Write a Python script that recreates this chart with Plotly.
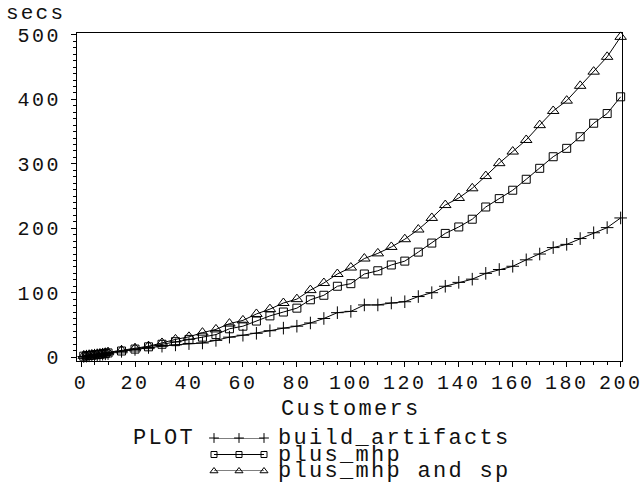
import plotly.graph_objects as go

# ---- data ----
customers = [1, 2, 3, 4, 5, 6, 7, 8, 9, 10,
             15, 20, 25, 30, 35, 40, 45, 50, 55, 60, 65, 70, 75, 80, 85, 90, 95, 100,
             105, 110, 115, 120, 125, 130, 135, 140, 145, 150, 155, 160, 165, 170, 175,
             180, 185, 190, 195, 200]

build_artifacts = [1.0, 1.5, 2.0, 2.5, 3.0, 3.5, 4.0, 4.5, 5.0, 5.5,
                   9, 12, 15, 17, 19, 21, 22, 26, 31, 34, 37, 41, 45, 48, 53, 60, 69, 71,
                   81, 81, 84, 86, 94, 100, 110, 116, 121, 130, 136, 141, 151, 160, 170,
                   175, 184, 193, 201, 216]

plus_mhp = [1.5, 2.0, 2.5, 3.0, 3.5, 4.0, 4.5, 5.0, 5.5, 6.5,
            9.5, 12.5, 16, 20, 24, 27.5, 31, 35, 44, 48, 56, 64, 70, 76, 89, 96, 110, 114,
            129, 134, 143, 149, 163, 177, 192, 202, 214, 233, 246, 259, 276, 293, 311,
            324, 342, 363, 378, 404]

plus_mhp_and_sp = [2.0, 2.5, 3.0, 3.5, 4.0, 4.5, 5.0, 6.0, 6.5, 7.5,
                   10.5, 13.5, 17, 22, 27.5, 31.5, 38, 43, 52, 57, 67, 74.5, 84, 90, 104, 115, 129, 139,
                   153, 161, 171, 183, 198, 216, 236, 247, 262, 281, 301, 319, 337, 360, 382,
                   398, 421, 443, 466, 497]

series_names = ["build_artifacts", "plus_mhp", "plus_mhp and sp"]
series_values = [build_artifacts, plus_mhp, plus_mhp_and_sp]
x_tick_values = list(range(0, 201, 20))
y_tick_values = list(range(0, 501, 100))
legend_key_x = [0, 1, 2]

# ---- styling ----
W, H = 641, 489
FONT = "Liberation Mono, Courier New, monospace"
INK = "#000000"
TXT = "#111111"
symbols = ["cross-thin", "square-open", "triangle-up-open"]
sizes = [9, 8, 10]
key_sizes = [7, 6, 7]


def spaced(s, px):
    return '<span style="letter-spacing:%spx">%s</span>' % (px, s)


def fx(px):  # page pixel -> paper fraction (x)
    return px / W


def fy(py):  # page pixel -> paper fraction (y)
    return 1 - py / H


# plot frame in page pixels
L, R, T, B = 77, 622, 33, 361
# legend geometry in page pixels
KEY_X0, KEY_X1 = 214, 264
ROW_Y = [438, 455, 471]
LABEL_X = 276

fig = go.Figure()

for name, vals, sym, sz in zip(series_names, series_values, symbols, sizes):
    fig.add_trace(go.Scatter(
        x=customers, y=vals, name=name, mode="lines+markers",
        line=dict(color=INK, width=1),
        marker=dict(symbol=sym, size=sz, color=INK, line=dict(color=INK, width=1)),
        cliponaxis=False, showlegend=False, xaxis="x", yaxis="y",
    ))

# custom SAS-style legend keys
for row, (name, sym, sz) in enumerate(zip(series_names, symbols, key_sizes)):
    fig.add_trace(go.Scatter(
        x=legend_key_x, y=[row] * len(legend_key_x), mode="lines+markers",
        line=dict(color=INK, width=1),
        marker=dict(symbol=sym, size=sz, color=INK, line=dict(color=INK, width=1)),
        cliponaxis=False, showlegend=False, hoverinfo="skip",
        xaxis="x2", yaxis="y2",
    ))

annotations = []
for row, name in enumerate(series_names):
    annotations.append(dict(
        text=spaced(name, 2.3), xref="paper", yref="paper", x=fx(LABEL_X), y=fy(ROW_Y[row]),
        xanchor="left", yanchor="middle", showarrow=False,
        font=dict(family=FONT, size=22, color=TXT),
    ))
annotations.append(dict(
    text=spaced("PLOT", 2.3), xref="paper", yref="paper", x=fx(164), y=fy(438),
    xanchor="center", yanchor="middle", showarrow=False,
    font=dict(family=FONT, size=22, color=TXT),
))
annotations.append(dict(
    text=spaced("Customers", 2.3), xref="paper", yref="paper", x=fx((L + R) / 2 + 1), y=fy(409),
    xanchor="center", yanchor="middle", showarrow=False,
    font=dict(family=FONT, size=22, color=TXT),
))
annotations.append(dict(
    text=spaced("secs", 2.2), xref="paper", yref="paper", x=fx(35), y=fy(14),
    xanchor="center", yanchor="middle", showarrow=False,
    font=dict(family=FONT, size=21, color=TXT),
))

axis_common = dict(
    showline=True, linecolor=INK, linewidth=1, mirror=True,
    ticks="outside", ticklen=5, tickwidth=1, tickcolor=INK,
    showgrid=False, zeroline=False, automargin=False, tickangle=0,
    ticklabeloverflow="allow",
    tickfont=dict(family=FONT, size=20, color=TXT),
)

fig.update_layout(
    width=W, height=H,
    margin=dict(l=0, r=0, t=0, b=0),
    paper_bgcolor="white", plot_bgcolor="white",
    template="none",
    showlegend=False,
    annotations=annotations,
    xaxis=dict(
        domain=[fx(L), fx(R)], range=[-1.5, 200.5],
        tickvals=x_tick_values, ticktext=[spaced(str(v), 2.5) for v in x_tick_values],
        minor=dict(ticks="outside", ticklen=3, tickwidth=1, tickcolor=INK, dtick=5, tick0=0),
        anchor="y", ticklabelstandoff=-2, **axis_common,
    ),
    yaxis=dict(
        domain=[fy(B), fy(T)], range=[-6, 503],
        tickvals=y_tick_values, ticktext=[spaced(str(v), 2.5) for v in y_tick_values],
        minor=dict(ticks="outside", ticklen=3, tickwidth=1, tickcolor=INK, dtick=10, tick0=0),
        anchor="x", ticklabelstandoff=6, **axis_common,
    ),
    xaxis2=dict(
        domain=[fx(KEY_X0), fx(KEY_X1)], range=[0, 2], visible=False,
        anchor="y2", fixedrange=True,
    ),
    yaxis2=dict(
        domain=[fy(ROW_Y[2]), fy(ROW_Y[0])], range=[2, 0], visible=False,
        anchor="x2", fixedrange=True,
    ),
)

# remove the browser's default 8px page margin so the figure sits at the page origin
fig.write_html("out.html", config={"displayModeBar": False},
               post_script="document.body.style.margin='0px';")
